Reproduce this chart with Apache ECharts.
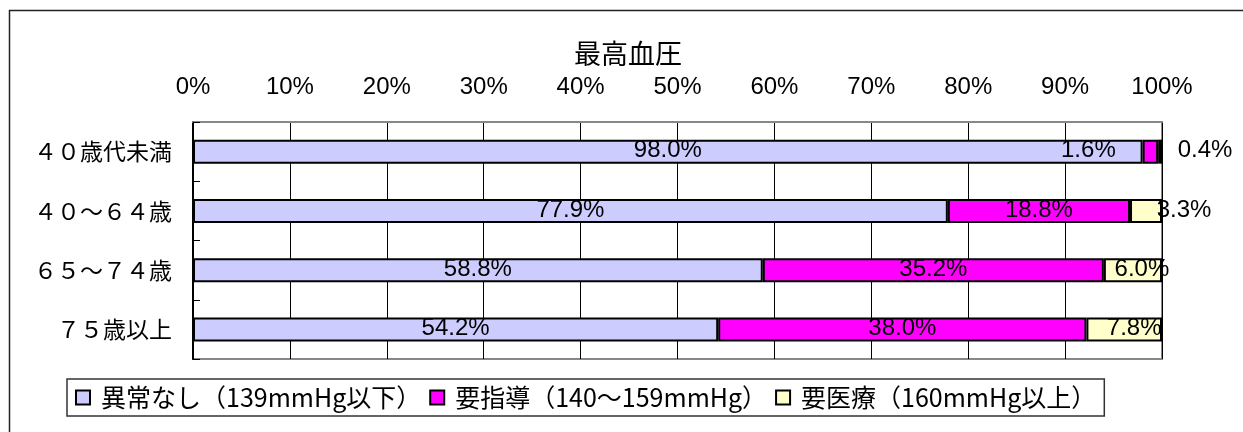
<!DOCTYPE html>
<html>
<head>
<meta charset="utf-8">
<script src="https://cdn.jsdelivr.net/npm/echarts@6/dist/echarts.min.js"></script>
<style>
  html, body { margin: 0; padding: 0; background: #fff; }
  #chart { width: 1243px; height: 432px; }
</style>
</head>
<body>
<div id="chart"></div>
<script>
// 年齢区分
const ageGroups = ['４０歳代未満', '４０～６４歳', '６５～７４歳', '７５歳以上'];
// 最高血圧の区分ごとの割合(%)
const seriesNames = ['異常なし（139mmHg以下）', '要指導（140～159mmHg）', '要医療（160mmHg以上）'];
const normalVals = [98.0, 77.9, 58.8, 54.2];
const guidanceVals = [1.6, 18.8, 35.2, 38.0];
const medicalVals = [0.4, 3.3, 6.0, 7.8];
const tickLabels = ['0%', '10%', '20%', '30%', '40%', '50%', '60%', '70%', '80%', '90%', '100%'];

const colors = ['#CCCCFF', '#FF00FF', '#FFFFCC'];
// 小さい区分のラベルは棒の外にずらす（x方向の px）
const labelShift = [
  [0, 0, 0, 0],
  [-62, 0, 0, 0],
  [45, 38, 9, 10]
];

const numFont = "'Liberation Sans', Arial, sans-serif";
const jpFont = "'Noto Sans CJK JP', sans-serif";

function makeSeries(idx, vals) {
  return {
    name: seriesNames[idx],
    type: 'bar',
    stack: 'total',
    barWidth: 24,
    itemStyle: { color: colors[idx], borderColor: '#000', borderWidth: 2 },
    label: {
      show: true,
      position: 'inside',
      color: '#000',
      fontFamily: numFont,
      fontSize: 24,
      formatter: p => p.value.toFixed(1) + '%'
    },
    data: vals.map((v, i) => ({
      value: v,
      label: { offset: [labelShift[idx][i], -1] }
    }))
  };
}

const chart = echarts.init(document.getElementById('chart'));
chart.setOption({
  animation: false,
  backgroundColor: '#fff',
  title: {
    text: '最高血圧',
    left: 569,
    top: 35,
    textStyle: { fontFamily: jpFont, fontSize: 27, fontWeight: 'normal', color: '#000' }
  },
  graphic: [{
    type: 'rect',
    shape: { x: 9.5, y: 10.5, width: 1400, height: 600 },
    style: { fill: 'none', stroke: '#222', lineWidth: 1.5 },
    silent: true
  }],
  legend: {
    left: 67,
    top: 379,
    padding: [6, 8, 6, 8],
    borderColor: '#333',
    borderWidth: 1.5,
    itemWidth: 14,
    itemHeight: 14,
    itemGap: 8,
    icon: 'rect',
    itemStyle: { borderColor: '#000', borderWidth: 2 },
    textStyle: { fontFamily: jpFont, fontSize: 25, color: '#000', padding: [0, 0, 0, 6] },
    data: seriesNames
  },
  grid: {
    left: 193,
    right: 81,
    top: 122,
    bottom: 73,
    show: true,
    borderColor: '#888',
    borderWidth: 2
  },
  xAxis: {
    type: 'value',
    position: 'top',
    min: 0,
    max: 100,
    interval: 10,
    axisLine: { show: true, lineStyle: { color: '#888', width: 2 } },
    axisTick: { show: false },
    axisLabel: {
      margin: 23,
      color: '#000',
      fontFamily: numFont,
      fontSize: 24,
      formatter: v => tickLabels[Math.round(v / 10)]
    },
    splitLine: { show: true, lineStyle: { color: '#000', width: 1 } }
  },
  yAxis: {
    type: 'category',
    inverse: true,
    data: ageGroups,
    axisLine: { show: true, lineStyle: { color: '#000', width: 2 } },
    axisTick: { show: true, inside: true, length: 7, lineStyle: { color: '#000', width: 1 } },
    axisLabel: { margin: 21, color: '#000', fontFamily: jpFont, fontSize: 23 }
  },
  series: [
    makeSeries(0, normalVals),
    makeSeries(1, guidanceVals),
    makeSeries(2, medicalVals)
  ]
});
</script>
</body>
</html>
